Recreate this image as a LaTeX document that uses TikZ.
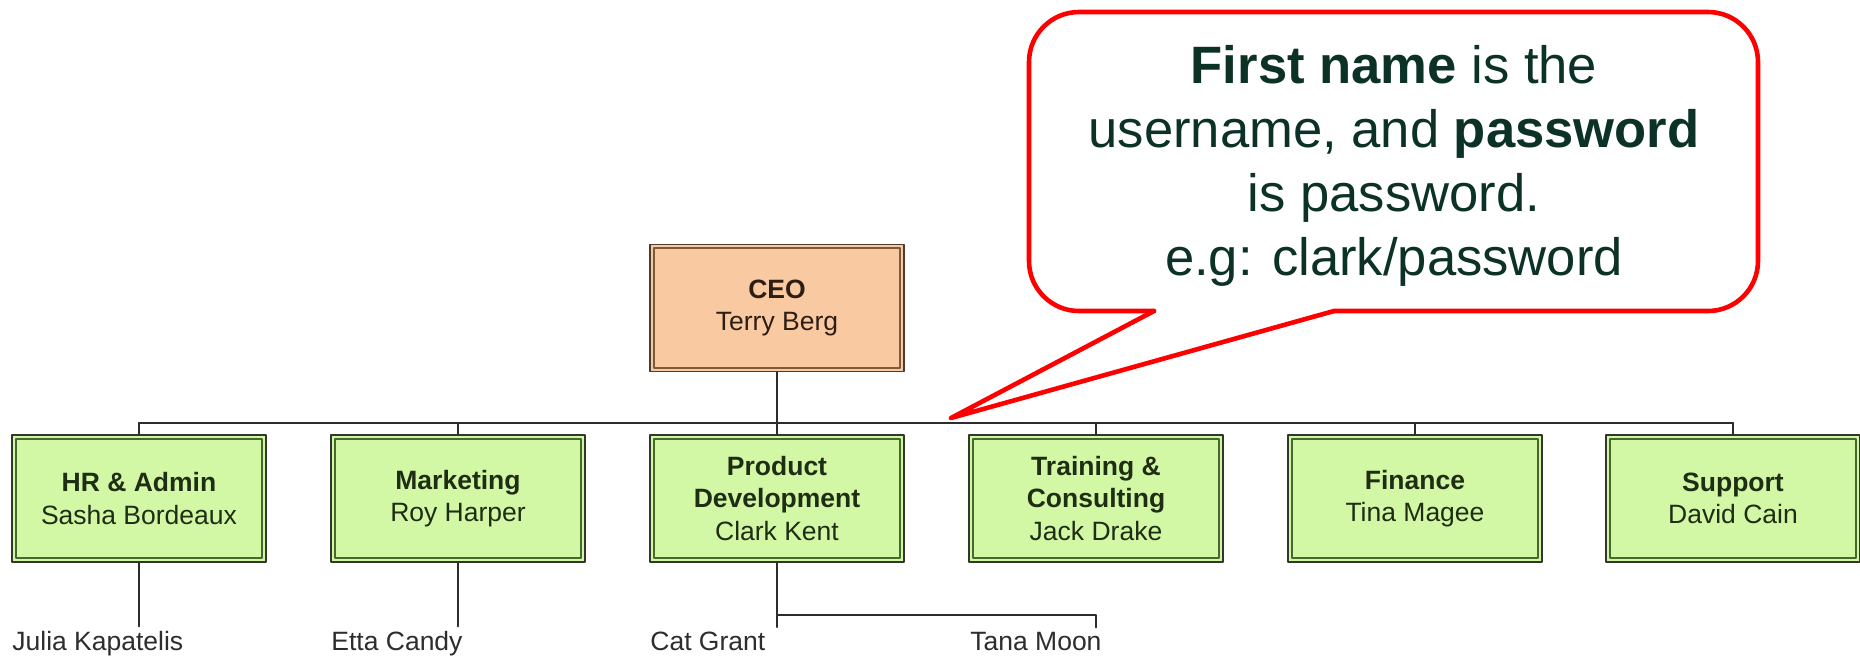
\documentclass[tikz,border=0pt]{standalone}
\usepackage{fontspec}
\setmainfont{Liberation Sans}
\definecolor{ceofill}{RGB}{249,202,162}
\definecolor{ceoedge}{RGB}{75,60,50}
\definecolor{ceoinner}{RGB}{125,90,60}
\definecolor{ceotext}{RGB}{45,30,20}
\definecolor{deptfill}{RGB}{210,247,165}
\definecolor{deptedge}{RGB}{50,55,45}
\definecolor{deptinner}{RGB}{70,105,45}
\definecolor{depttext}{RGB}{30,45,20}
\definecolor{stafftext}{RGB}{45,45,45}
\definecolor{connline}{RGB}{45,45,45}
\definecolor{notetext}{RGB}{12,50,40}

\begin{document}
\begin{tikzpicture}[x=0.5pt,y=-0.5pt,line cap=round,line join=round,
  every node/.style={inner sep=0pt},
  orgbox/.style={rectangle,draw,line width=0.9pt,minimum width=127pt,minimum height=63.5pt,
    align=center,font=\fontsize{13.25}{16.3}\selectfont},
  inner frame/.style={path picture={\draw[line width=0.9pt,#1]
    ([shift={(1.9pt,-1.9pt)}]path picture bounding box.north west) rectangle
    ([shift={(-1.9pt,1.9pt)}]path picture bounding box.south east);}},
  ceobox/.style={orgbox,draw=ceoedge,fill=ceofill,text=ceotext,inner frame=ceoinner},
  deptbox/.style={orgbox,draw=deptedge,fill=deptfill,text=depttext,inner frame=deptinner},
  staff/.style={anchor=base west,inner ysep=2pt,text=stafftext,font=\fontsize{13.25}{16.3}\selectfont},
  conn/.style={draw=connline,line width=1pt},
  callout/.style={draw=red,line width=2.3pt}]
  \path[use as bounding box,fill=white] (0,0) rectangle (1860,655);
  % boxes: CEO on top, six departments in one row
  \node[ceobox] (ceo) at (777,308) {\textbf{CEO}\\Terry Berg};
  \node[deptbox] (hr) at (139,498.5) {\textbf{HR \& Admin}\\Sasha Bordeaux};
  \node[deptbox] (mkt) at (458,498.5) {\textbf{Marketing}\\Roy Harper};
  \node[deptbox] (prod) at (777,498.5) {\textbf{Product}\\\textbf{Development}\\Clark Kent};
  \node[deptbox] (train) at (1096,498.5) {\textbf{Training \&}\\\textbf{Consulting}\\Jack Drake};
  \node[deptbox] (fin) at (1415,498.5) {\textbf{Finance}\\Tina Magee};
  \node[deptbox] (sup) at (1733,498.5) {\textbf{Support}\\David Cain};
  % staff names under the departments
  \node[staff] (julia) at (12,650) {Julia Kapatelis};
  \node[staff] (etta) at (331,650) {Etta Candy};
  \node[staff] (cat) at (650,650) {Cat Grant};
  \node[staff] (tana) at (970,650) {Tana Moon};
  % connectors
  \coordinate (bus) at (777,423);
  \coordinate (branch) at (777,615);
  \draw[conn] (ceo.south) -- (ceo.south |- bus);
  \draw[conn] (hr.north |- bus) -- (sup.north |- bus);
  \draw[conn] (hr.north) -- (hr.north |- bus);
  \draw[conn] (mkt.north) -- (mkt.north |- bus);
  \draw[conn] (prod.north) -- (prod.north |- bus);
  \draw[conn] (train.north) -- (train.north |- bus);
  \draw[conn] (fin.north) -- (fin.north |- bus);
  \draw[conn] (sup.north) -- (sup.north |- bus);
  \draw[conn] (hr.south) -- (hr.south |- julia.north);
  \draw[conn] (mkt.south) -- (mkt.south |- etta.north);
  \draw[conn] (prod.south) -- (prod.south |- cat.north);
  \draw[conn] (branch) -| (train.south |- tana.north);
  % speech bubble with the login hint
  \draw[callout,rounded corners=25pt] (1334,311) -- (1758,311) -- (1758,12) -- (1029,12) -- (1029,311) -- (1154,311);
  \draw[callout] (1154,311) -- (951,418) -- (1334,311);
  \node[font=\fontsize{26.3}{32}\selectfont,text=notetext,align=center] (note) at (1394,166)
    {\textbf{First name} is the\\username, and \textbf{password}\\is password.\\e.g: clark/password};
\end{tikzpicture}
\end{document}
